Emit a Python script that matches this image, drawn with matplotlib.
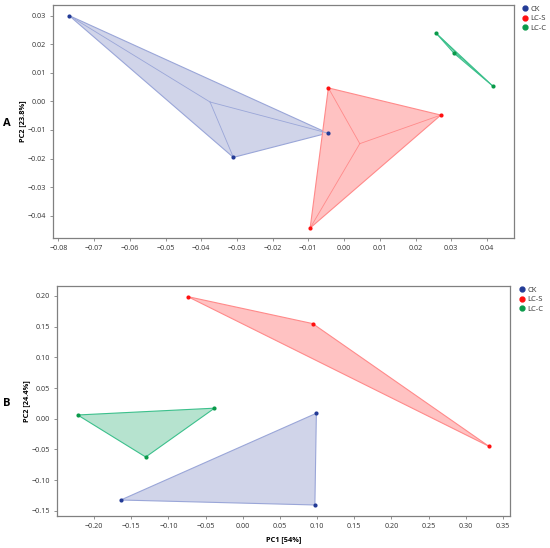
import numpy as np
import matplotlib
matplotlib.use('Agg')
import matplotlib.pyplot as plt
from matplotlib.lines import Line2D

plt.rcParams['font.family'] = ['Open Sans', 'DejaVu Sans']

groups = ['CK', 'LC-S', 'LC-C']
dot_colors = ['#233b96', '#ff1010', '#0a9a4a']
fill_colors = ['#d0d4e9', '#ffc2c2', '#b6e3cf']
edge_colors = ['#9aa6d8', '#ff8a8a', '#3cc08c']

# panel A (PC1 vs PC2)
a_x = {'CK': [-0.077, -0.031, -0.0046],
       'LC-S': [-0.0044, 0.0271, -0.0095],
       'LC-C': [0.0258, 0.0308, 0.0416]}
a_y = {'CK': [0.030, -0.0196, -0.0111],
       'LC-S': [0.0047, -0.0048, -0.0443],
       'LC-C': [0.0238, 0.0168, 0.0054]}
a_xticks = [-0.08, -0.07, -0.06, -0.05, -0.04, -0.03, -0.02, -0.01, 0.00, 0.01, 0.02, 0.03, 0.04]
a_yticks = [0.03, 0.02, 0.01, 0.00, -0.01, -0.02, -0.03, -0.04]

# panel B
b_x = {'CK': [-0.164, 0.099, 0.097],
       'LC-S': [-0.074, 0.094, 0.331],
       'LC-C': [-0.222, -0.038, -0.1305]}
b_y = {'CK': [-0.1326, 0.0088, -0.1407],
       'LC-S': [0.199, 0.155, -0.045],
       'LC-C': [0.006, 0.0171, -0.0625]}
b_xticks = [-0.20, -0.15, -0.10, -0.05, 0.00, 0.05, 0.10, 0.15, 0.20, 0.25, 0.30, 0.35]
b_yticks = [0.20, 0.15, 0.10, 0.05, 0.00, -0.05, -0.10, -0.15]

W, H = 550, 548
fig = plt.figure(figsize=(5.5, 5.48), dpi=100)


def box(l, t, r, b):
    return [l / W, 1 - b / H, (r - l) / W, (b - t) / H]


def lab(v):
    return ('%.2f' % v).replace('-', '\u2212')


def style(ax, xt, yt):
    for s in ['top', 'right', 'left', 'bottom']:
        ax.spines[s].set_color('#808080')
        ax.spines[s].set_linewidth(0.9)
    ax.set_xticks(xt)
    ax.set_yticks(yt)
    ax.set_xticklabels([lab(v) for v in xt])
    ax.set_yticklabels([lab(v) for v in yt])
    ax.tick_params(labelsize=5.2, length=2.5, width=0.6, color='#808080',
                   labelcolor='#333333', pad=2.5)


def draw(ax, xs, ys, spokes):
    for g, dc, fc, ec in zip(groups, dot_colors, fill_colors, edge_colors):
        x = np.array(xs[g])
        y = np.array(ys[g])
        ax.fill(x, y, facecolor=fc, edgecolor=ec, linewidth=0.8, zorder=1)
        if spokes:
            cx, cy = x.mean(), y.mean()
            for xi, yi in zip(x, y):
                ax.plot([cx, xi], [cy, yi], color=ec, lw=0.6, zorder=2)
        ax.scatter(x, y, s=9, color=dc, zorder=3, linewidths=0)


def legend(ax):
    hs = [Line2D([], [], marker='o', ls='', color=c, markersize=3.5) for c in dot_colors]
    ax.legend(hs, groups, loc='upper left', bbox_to_anchor=(1.01, 1.01), frameon=False,
              fontsize=5.5, handletextpad=0.2, labelspacing=0.25, borderaxespad=0,
              handlelength=1.0, labelcolor='#333333')


ax1 = fig.add_axes(box(52.7, 5, 513.7, 238))
draw(ax1, a_x, a_y, True)
ax1.set_xlim(-0.0816, 0.0475)
ax1.set_ylim(-0.0478, 0.0337)
style(ax1, a_xticks, a_yticks)
ax1.set_ylabel('PC2 [23.8%]', fontsize=5.3, fontweight='bold')
ax1.yaxis.set_label_coords(-0.057, 0.5)
legend(ax1)
fig.text(6.7 / W, 1 - 123 / H, 'A', fontsize=8, fontweight='bold', ha='center', va='center')

ax2 = fig.add_axes(box(57.3, 286, 510.3, 515.7))
draw(ax2, b_x, b_y, False)
ax2.set_xlim(-0.2494, 0.3598)
ax2.set_ylim(-0.1582, 0.2163)
style(ax2, b_xticks, b_yticks)
ax2.set_ylabel('PC2 [24.4%]', fontsize=5.3, fontweight='bold')
ax2.yaxis.set_label_coords(-0.06, 0.5)
ax2.set_xlabel('PC1 [54%]', fontsize=5.3, fontweight='bold')
ax2.xaxis.set_label_coords(0.5, -0.09)
legend(ax2)
fig.text(7 / W, 1 - 403 / H, 'B', fontsize=8, fontweight='bold', ha='center', va='center')

plt.savefig('out.png', dpi=100)
